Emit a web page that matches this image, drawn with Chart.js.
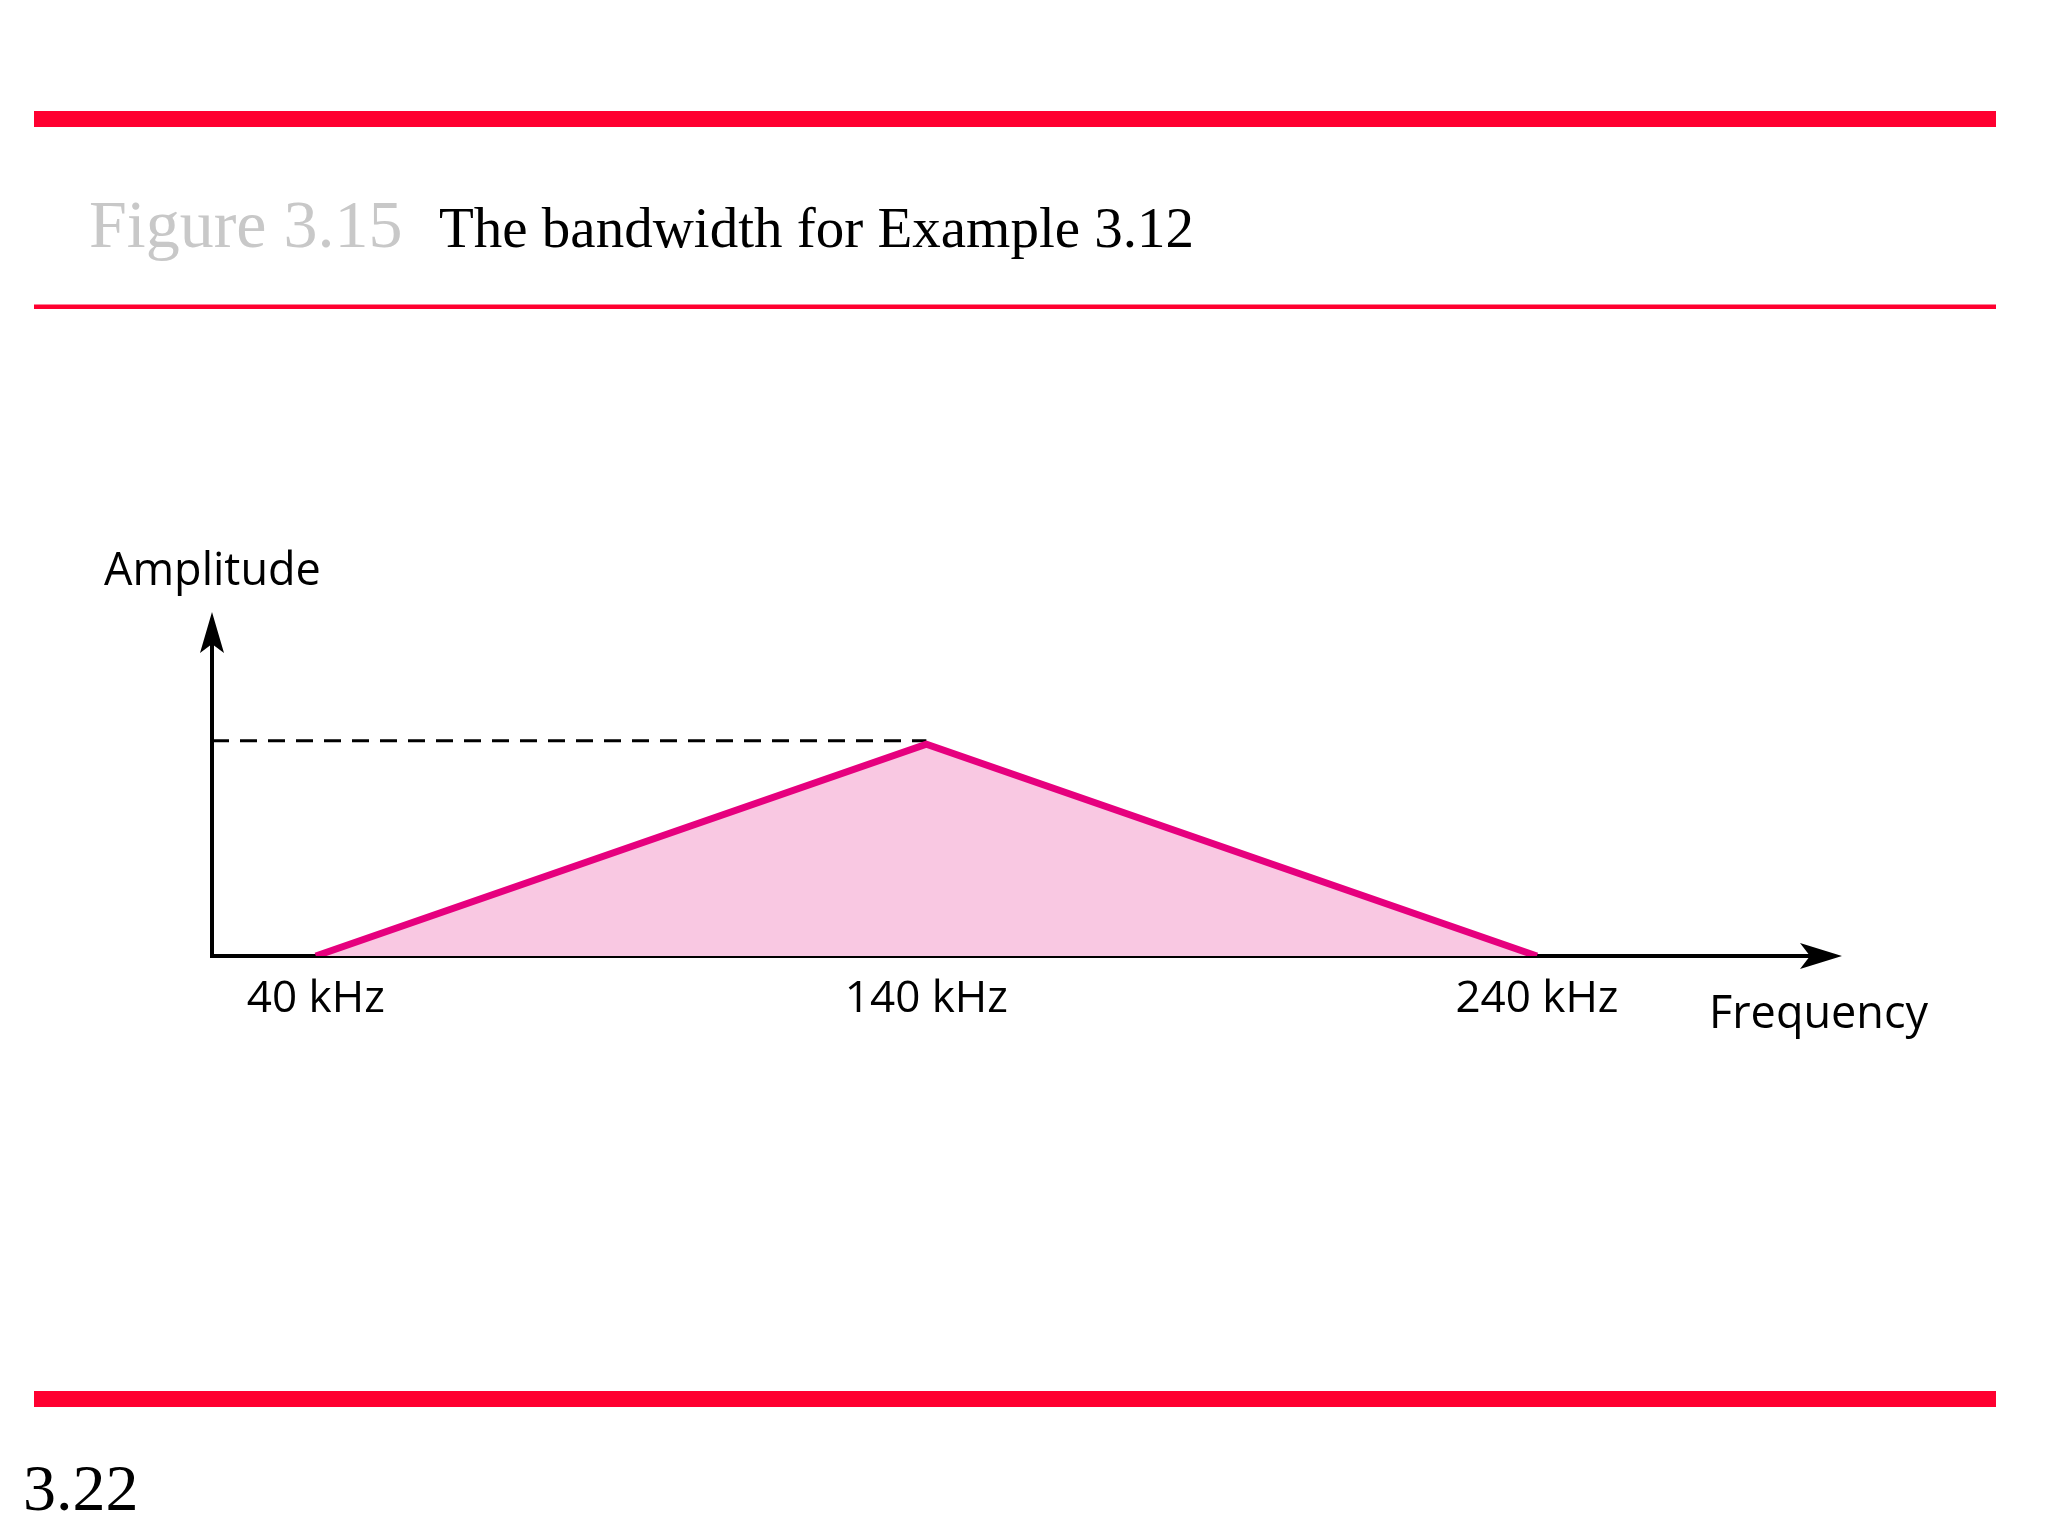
<!DOCTYPE html>
<html>
<head>
<meta charset="utf-8">
<script src="https://cdn.jsdelivr.net/npm/chart.js@4/dist/chart.umd.min.js"></script>
<style>
  html, body { margin: 0; padding: 0; background: #ffffff; }
  #wrap { width: 2048px; height: 1536px; position: relative; }
</style>
</head>
<body>
<div id="wrap"><canvas id="c" width="2048" height="1536"></canvas></div>
<script>
// ---- data ----
const frequencies = [40, 140, 240];          // kHz
const amplitudes = [0, 0.65, 0];             // relative amplitude
const peakRefFreq = [23, 140];               // dashed reference from axis to peak
const peakRefAmp = [0.66, 0.66];
const tickValues = [40, 140, 240];
const tickUnit = ' kHz';
const xRange = [23, 288];
const yRange = [0, 1];
const figureLabel = 'Figure 3.15';
const figureTitle = 'The bandwidth for Example 3.12';
const pageNumber = '3.22';
const yAxisTitle = 'Amplitude';
const xAxisTitle = 'Frequency';

const RED = '#ff0030';
const PINK = '#e6007e';
const PINK_FILL = '#f9c8e2';
const SANS = '"Open Sans", "Noto Sans", sans-serif';
const SERIF = '"Liberation Serif", "Times New Roman", serif';

const decor = {
  id: 'decor',
  beforeDraw(chart) {
    const ctx = chart.ctx;
    ctx.save();
    ctx.fillStyle = '#ffffff';
    ctx.fillRect(0, 0, chart.width, chart.height);
    // red rules
    ctx.fillStyle = RED;
    ctx.fillRect(34, 111, 1962, 16);
    ctx.fillRect(34, 304.5, 1962, 4.5);
    ctx.fillRect(34, 1391, 1962, 16);
    // heading
    ctx.textBaseline = 'alphabetic';
    ctx.textAlign = 'left';
    ctx.fillStyle = '#c8c8c8';
    ctx.font = '68px ' + SERIF;
    ctx.fillText(figureLabel, 89, 247);
    ctx.fillStyle = '#000000';
    ctx.font = '57px ' + SERIF;
    ctx.fillText(figureTitle, 439, 247);
    ctx.font = '66px ' + SERIF;
    ctx.fillText(pageNumber, 23, 1510);
    ctx.restore();
  },
  afterDraw(chart) {
    const ctx = chart.ctx;
    const a = chart.chartArea;
    ctx.save();
    ctx.fillStyle = '#000000';
    // y-axis arrowhead
    const yl = a.left, yt = a.top - 18;
    ctx.beginPath();
    ctx.moveTo(yl, yt);
    ctx.lineTo(yl + 12, yt + 41);
    ctx.lineTo(yl, yt + 32);
    ctx.lineTo(yl - 12, yt + 41);
    ctx.closePath();
    ctx.fill();
    // x-axis arrowhead
    const xr = a.right + 12, xb = a.bottom;
    ctx.beginPath();
    ctx.moveTo(xr, xb);
    ctx.lineTo(xr - 42, xb - 13);
    ctx.lineTo(xr - 32, xb);
    ctx.lineTo(xr - 42, xb + 13);
    ctx.closePath();
    ctx.fill();
    // axis titles
    ctx.font = '45px ' + SANS;
    ctx.textBaseline = 'alphabetic';
    ctx.textAlign = 'left';
    ctx.fillText(yAxisTitle, a.left - 108, a.top - 45);
    ctx.fillText(xAxisTitle, a.right - 121, a.bottom + 72);
    ctx.restore();
  }
};

new Chart(document.getElementById('c'), {
  type: 'line',
  data: {
    datasets: [
      {
        label: 'Spectrum',
        data: frequencies.map((f, i) => ({ x: f, y: amplitudes[i] })),
        borderColor: PINK,
        backgroundColor: PINK_FILL,
        borderWidth: 7,
        borderJoinStyle: 'miter',
        fill: 'origin',
        pointRadius: 0,
        tension: 0,
        order: 1
      },
      {
        label: 'Peak level',
        data: peakRefFreq.map((f, i) => ({ x: f, y: peakRefAmp[i] })),
        borderColor: '#000000',
        borderWidth: 3,
        borderDash: [17, 11],
        fill: false,
        pointRadius: 0,
        order: 2
      }
    ]
  },
  options: {
    responsive: false,
    animation: false,
    devicePixelRatio: 1,
    layout: { padding: { left: 212, right: 218, top: 630, bottom: 480 } },
    plugins: { legend: { display: false }, tooltip: { enabled: false }, title: { display: false } },
    scales: {
      x: {
        type: 'linear',
        min: xRange[0],
        max: xRange[1],
        z: 1,
        grid: { display: false, drawTicks: false },
        border: { display: true, color: '#000000', width: 4 },
        afterBuildTicks: (s) => { s.ticks = tickValues.map(v => ({ value: v })); },
        afterFit: (s) => { s.height = 100; },
        ticks: {
          color: '#000000',
          padding: 17,
          maxRotation: 0,
          autoSkip: false,
          font: { family: SANS, size: 44 },
          callback: (v) => v + tickUnit
        }
      },
      y: {
        type: 'linear',
        min: yRange[0],
        max: yRange[1],
        z: 1,
        grid: { display: false, drawTicks: false },
        border: { display: true, color: '#000000', width: 4 },
        ticks: { display: false },
        afterFit: (s) => { s.width = 0; }
      }
    }
  },
  plugins: [decor]
});
</script>
</body>
</html>
